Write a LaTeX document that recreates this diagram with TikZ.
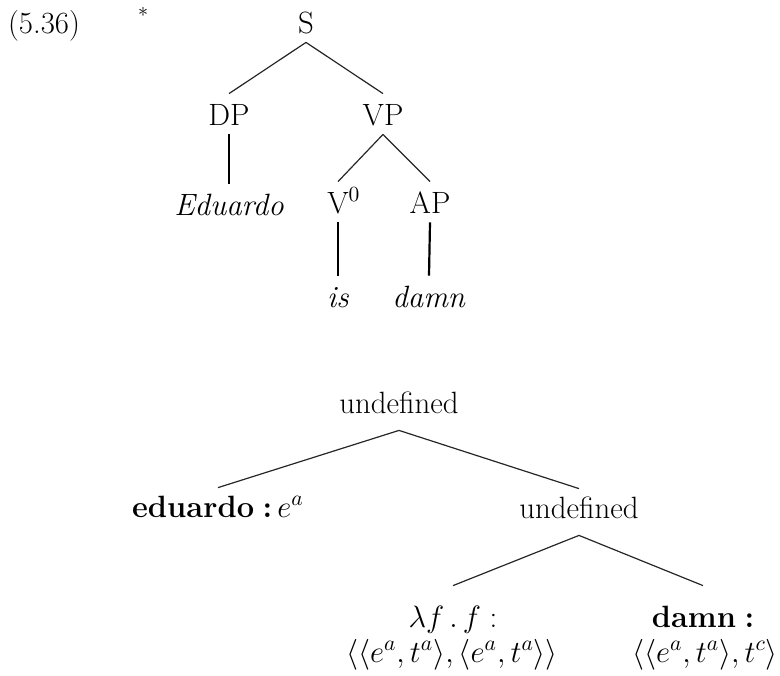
\RequirePackage{fix-cm}
\documentclass[tikz,border=0pt]{standalone}
\usepackage{amsmath,amssymb}
\usepackage{tikz}
\newcommand{\treefont}{\fontsize{15.4}{18}\selectfont}
\tikzset{
  syn/.style     = {font=\treefont, text height=14pt, text depth=3pt,
                    inner xsep=2pt, inner ysep=1.5pt, anchor=base},
  sem/.style     = {font=\treefont, text height=13pt, text depth=7pt,
                    inner xsep=2pt, inner ysep=1.5pt, anchor=base},
  semleaf/.style = {sem, text height=19pt},
  typeline/.style= {font=\treefont, inner sep=0pt, anchor=base},
  branch/.style  = {black!85, line width=0.6pt},
  unary/.style   = {black, line width=1.1pt}
}
\newcommand{\tp}[2]{\langle #1,#2\rangle}

\begin{document}
\begin{tikzpicture}[x=0.5pt,y=-0.5pt]
  \useasboundingbox (0,0) rectangle (780,675);
  \node[typeline] (exno) at (44,33) {(5.36)};
  \node[font=\normalsize, inner sep=0pt] (star) at (143,15) {*};
  % syntactic tree
  \node[syn] (s)   at (306,33)  {S};
  \node[syn] (dp)  at (229,125) {DP};
  \node[syn] (vp)  at (383,125) {VP};
  \node[syn] (edw) at (229,215) {\textit{Eduardo}};
  \node[syn] (v0)  at (338,213) {V\rlap{$^0$}};
  \node[syn] (ap)  at (430,213) {AP};
  \node[syn] (is)  at (338,307) {\textit{is}};
  \node[syn] (dmw) at (429,307) {\textit{damn}};
  \draw[branch] (s.south) -- (dp.north);
  \draw[branch] (s.south) -- (vp.north);
  \draw[unary]  (dp.south) -- (edw.north);
  \draw[branch] (vp.south) -- (v0.north);
  \draw[branch] (vp.south) -- (ap.north);
  \draw[unary]  (v0.south) -- (is.north);
  \draw[unary]  (ap.south) -- (dmw.north);
  % semantic tree
  \node[sem] (u1)  at (399,413) {undefined};
  \node[sem] (edu) at (218,517) {\textbf{eduardo\;:}\,$e^{a}$};
  \node[sem] (u2)  at (579,518) {undefined};
  \node[semleaf] (lam) at (453,627) {$\lambda f\,.\,f$\;:};
  \node[semleaf] (dmn) at (703,627) {\textbf{damn\;:}};
  \node[typeline] (lamty) at (452,662)
    {$\langle\tp{e^{a}}{t^{a}},\tp{e^{a}}{t^{a}}\rangle$};
  \node[typeline] (dmnty) at (705,662)
    {$\langle\tp{e^{a}}{t^{a}},t^{c}\rangle$};
  \draw[branch] (u1.south) -- (edu.north);
  \draw[branch] (u1.south) -- (u2.north);
  \draw[branch] (u2.south) -- (lam.north);
  \draw[branch] (u2.south) -- (dmn.north);
\end{tikzpicture}
\end{document}
